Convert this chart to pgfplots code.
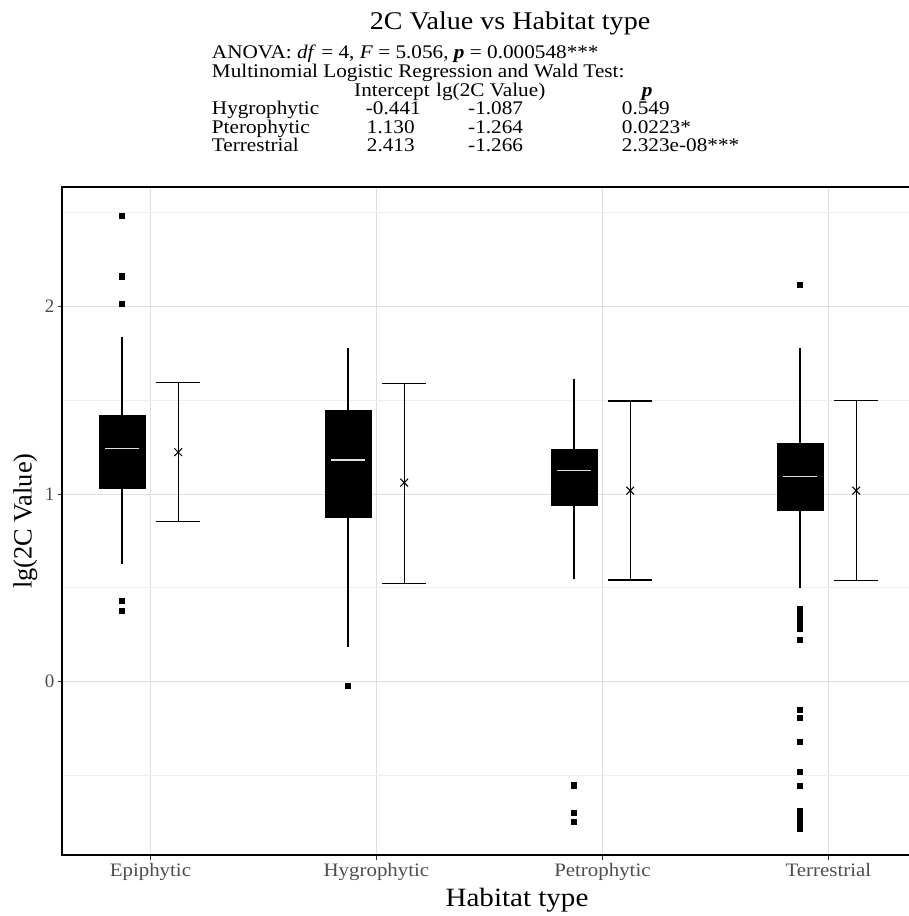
\documentclass[border=0pt]{standalone}
\usepackage{pgfplots}
\pgfplotsset{compat=1.18}
\usepgfplotslibrary{statistics}
\usepackage{fontspec}
\setmainfont{Liberation Serif}
\definecolor{gridmaj}{HTML}{DEDEDE}
\definecolor{gridmin}{HTML}{EFEFEF}
\definecolor{ticklab}{HTML}{4D4D4D}
\newcommand\ft{\fontsize{19.3}{22}\selectfont}
\begin{document}
\begin{tikzpicture}[x=1pt,y=1pt]
\useasboundingbox (0,0) rectangle (909,916);
\clip (0,0) rectangle (909,916);
\begin{axis}[at={(62.3pt,61pt)}, anchor=south west, scale only axis,
  width=909.4pt, height=667.7pt,
  xmin=0.61, xmax=4.634, ymin=-0.924, ymax=2.635,
  xtick={1,2,3,4}, xticklabels={Epiphytic,Hygrophytic,Petrophytic,Terrestrial},
  ytick={0,1,2}, minor ytick={-0.5,0.5,1.5,2.5},
  tick pos=left,
  grid=both, major grid style={gridmaj, line width=1pt},
  minor grid style={gridmin, line width=0.7pt},
  tick align=outside, major tick length=4.5pt, minor tick length=0pt,
  tick style={color=black!80, line width=1pt},
  axis line style={line width=2pt},
  tick label style={font=\fontsize{19}{22}\selectfont, text=ticklab},
  xticklabel style={xscale=1.1},
  /pgf/number format/assume math mode=true,
  xlabel={Habitat type}, ylabel={lg(2C Value)},
  label style={font=\fontsize{26.4}{30}\selectfont},
  xlabel style={at={([yshift=-51.7pt]axis description cs:0.5,0)}, anchor=base, xscale=1.1},
  ylabel style={at={([xshift=-30.6pt]axis description cs:0,0.5)}, anchor=base},
  boxplot/draw direction=y,
  boxplot/every median/.style={draw=gridmaj, line width=1.3pt, shorten <=5.7pt, shorten >=5.7pt},
  boxplot/every whisker/.style={line width=1.4pt},
  boxplot/every box/.style={draw=black, fill=black, line width=0.8pt},
]
% Epiphytic
\addplot[black, mark=square*, mark size=2.6pt, mark options={draw=black, fill=black, line width=0pt},
  boxplot prepared={draw position=0.875, lower whisker=0.627, lower quartile=1.029,
  median=1.244, upper quartile=1.418, upper whisker=1.839, box extend=0.2035, whisker extend=0}]
  table[row sep=\\, y index=0] {2.481\\ 2.159\\ 2.015\\ 0.430\\ 0.378\\};
% Hygrophytic
\addplot[black, mark=square*, mark size=2.6pt, mark options={draw=black, fill=black, line width=0pt},
  boxplot prepared={draw position=1.875, lower whisker=0.187, lower quartile=0.878,
  median=1.182, upper quartile=1.448, upper whisker=1.780, box extend=0.2035, whisker extend=0}]
  table[row sep=\\, y index=0] {-0.023\\};
% Petrophytic
\addplot[black, mark=square*, mark size=2.6pt, mark options={draw=black, fill=black, line width=0pt},
  boxplot prepared={draw position=2.875, lower whisker=0.546, lower quartile=0.937,
  median=1.125, upper quartile=1.240, upper whisker=1.612, box extend=0.2035, whisker extend=0}]
  table[row sep=\\, y index=0] {-0.554\\ -0.698\\ -0.749\\};
% Terrestrial
\addplot[black, mark=square*, mark size=2.6pt, mark options={draw=black, fill=black, line width=0pt},
  boxplot prepared={draw position=3.875, lower whisker=0.501, lower quartile=0.914,
  median=1.095, upper quartile=1.271, upper whisker=1.780, box extend=0.2035, whisker extend=0}]
  table[row sep=\\, y index=0] {2.115\\ 0.386\\ 0.365\\ 0.345\\ 0.320\\ 0.300\\ 0.280\\ 0.222\\ -0.151\\ -0.195\\ -0.320\\ -0.480\\ -0.556\\ -0.690\\ -0.710\\ -0.730\\ -0.750\\ -0.770\\ -0.787\\};
% mean with error bars
\addplot[black, only marks, mark=x, mark size=5.5pt, mark options={line width=1pt},
  error bars/.cd, y dir=both, y explicit,
  error bar style={line width=1.3pt},
  error mark options={rotate=90, mark size=22pt, line width=1.3pt}]
  coordinates {
  (1.123,1.223) += (0,0.373) -= (0,0.370)
  (2.123,1.061) += (0,0.530) -= (0,0.536)
  (3.123,1.018) += (0,0.478) -= (0,0.476)
  (4.123,1.018) += (0,0.480) -= (0,0.480)
  };
\end{axis}
\node[anchor=base, xscale=1.1, font=\fontsize{25.5}{30}\selectfont] at (510,886) {2C Value vs Habitat type};
\node[anchor=base west, inner sep=0, xscale=1.1] at (211.7,857.7) {\ft ANOVA: \textit{df} = 4, \textit{F} = 5.056, \textbf{\textit{p}} = 0.000548***};
\node[anchor=base west, inner sep=0, xscale=1.1] at (211.7,838) {\ft Multinomial Logistic Regression and Wald Test:};
\node[anchor=base west, inner sep=0, xscale=1.1] at (354,819.3) {\ft Intercept};
\node[anchor=base west, inner sep=0, xscale=1.1] at (436,819.3) {\ft lg(2C Value)};
\node[anchor=base west, inner sep=0, xscale=1.1] at (641.7,819.3) {\ft \textbf{\textit{p}}};
\node[anchor=base west, inner sep=0, xscale=1.1] at (211.7,801) {\ft Hygrophytic};
\node[anchor=base west, inner sep=0, xscale=1.1] at (365.7,801) {\ft -0.441};
\node[anchor=base west, inner sep=0, xscale=1.1] at (468,801) {\ft -1.087};
\node[anchor=base west, inner sep=0, xscale=1.1] at (621.7,801) {\ft 0.549};
\node[anchor=base west, inner sep=0, xscale=1.1] at (211.7,782.7) {\ft Pterophytic};
\node[anchor=base west, inner sep=0, xscale=1.1] at (366.7,782.7) {\ft 1.130};
\node[anchor=base west, inner sep=0, xscale=1.1] at (468,782.7) {\ft -1.264};
\node[anchor=base west, inner sep=0, xscale=1.1] at (621.7,782.7) {\ft 0.0223*};
\node[anchor=base west, inner sep=0, xscale=1.1] at (211.7,764.3) {\ft Terrestrial};
\node[anchor=base west, inner sep=0, xscale=1.1] at (366.7,764.3) {\ft 2.413};
\node[anchor=base west, inner sep=0, xscale=1.1] at (468,764.3) {\ft -1.266};
\node[anchor=base west, inner sep=0, xscale=1.1] at (621.7,764.3) {\ft 2.323e-08***};
\end{tikzpicture}
\end{document}
